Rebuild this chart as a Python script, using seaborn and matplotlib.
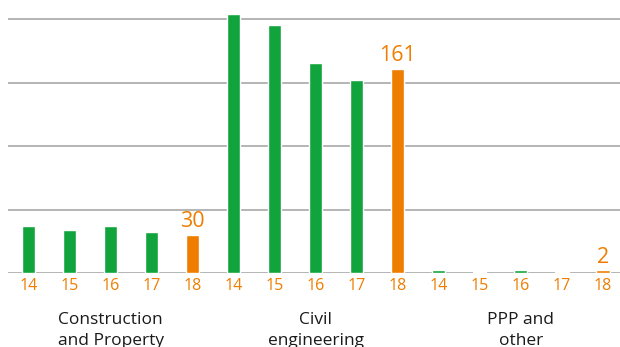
import matplotlib
matplotlib.use("Agg")
import matplotlib.pyplot as plt
import seaborn as sns
import pandas as pd

# Data
groups = ["Construction\nand Property", "Civil\nengineering", "PPP and\nother"]
years = ["14", "15", "16", "17", "18"]
construction_property = [37, 34, 37, 32, 30]
civil_engineering = [204, 195, 165, 152, 161]
ppp_other = [2, 1, 2, 1, 2]
gridline_values = [0, 50, 100, 150, 200]

GREEN = "#12a43c"
ORANGE = "#ef7d00"

series = [construction_property, civil_engineering, ppp_other]
rows = []
for g, vals in zip(groups, series):
    for y, v in zip(years, vals):
        rows.append({"slot": f"{g}|{y}", "group": g, "year": y, "value": v})
df = pd.DataFrame(rows)
slot_order = list(df["slot"])
palette = {s: (ORANGE if s.endswith("|18") else GREEN) for s in slot_order}

sns.set_theme(style="white")
plt.rcParams["font.family"] = ["Open Sans", "DejaVu Sans"]

fig = plt.figure(figsize=(6.2, 3.47), dpi=100)
W, H = 620, 347
ax = fig.add_axes([8 / W, (H - 273) / H, 615.5 / W, 273 / H])

sns.barplot(data=df, x="slot", y="value", hue="slot", order=slot_order,
            hue_order=slot_order, palette=palette, width=0.32, legend=False,
            saturation=1, ax=ax)

ax.set_xlim(-0.5, 14.5)
ax.set_ylim(0, 215)
ax.set_yticks(gridline_values)
ax.set_yticklabels([])
ax.tick_params(axis="y", length=0)
ax.yaxis.grid(True, color="#a0a0a0", linewidth=1.1)
ax.set_axisbelow(True)
for sp in ax.spines.values():
    sp.set_visible(False)

ax.set_xlabel("")
ax.set_ylabel("")
ax.set_xticks(range(len(slot_order)))
ax.set_xticklabels(list(df["year"]), color=ORANGE, fontsize=11.5)
ax.tick_params(axis="x", length=0, pad=3.5)

# Value labels on the latest year of each group
for i, row in df.iterrows():
    if row["year"] == "18":
        ax.annotate(f"{row['value']:g}", (i, row["value"]), xytext=(0, 2),
                    textcoords="offset points", ha="center", va="bottom",
                    color=ORANGE, fontsize=15.5)

# Group labels centred under each group of bars
for gi, g in enumerate(groups):
    x_center = gi * 5 + 2
    ax.text(x_center, -(312 - 273) / 273, g, transform=ax.get_xaxis_transform(),
            ha="center", va="top", fontsize=12.5, color="#1a1a1a",
            linespacing=1.45)

fig.savefig("out.png", dpi=100)
